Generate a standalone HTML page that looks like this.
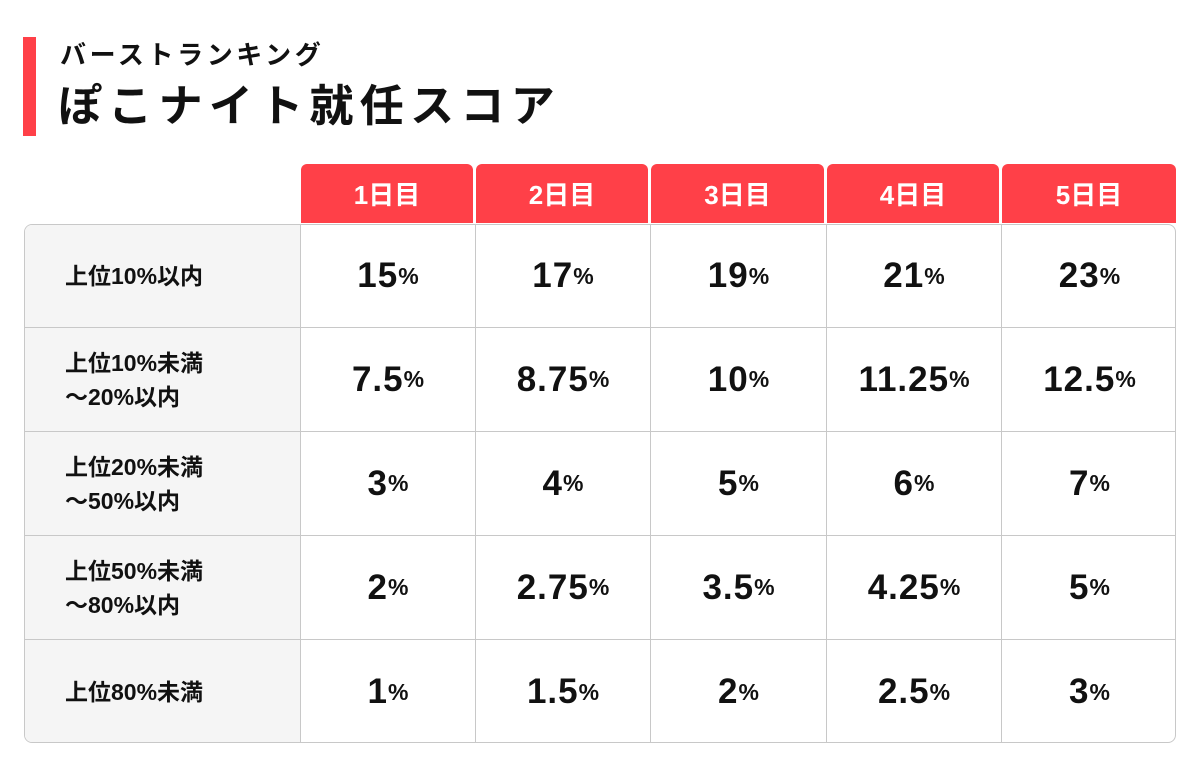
<!DOCTYPE html>
<html><head><meta charset="utf-8"><style>
body{margin:0;width:1200px;height:767px;background:#fff;position:relative;overflow:hidden;font-family:"Liberation Sans","Noto Sans CJK JP",sans-serif;color:#111}
.abs{position:absolute}
.hd{background:#ff4048;color:#fff;font-weight:bold;font-size:26px;display:flex;align-items:center;justify-content:center;border-radius:6px 6px 0 0}
.cell{border-right:1px solid #c8c8c8;border-bottom:1px solid #c8c8c8;box-sizing:border-box;display:flex;align-items:center;justify-content:center;font-weight:bold}
.lab{background:#f5f5f5;justify-content:flex-start;padding-left:40px;font-size:23px;line-height:34px}
.val{font-size:35px;letter-spacing:1px}
.val small{font-size:23px;letter-spacing:0}
</style></head><body>
<div class="abs" style="left:23px;top:37px;width:13px;height:99px;background:#ff4048"></div>
<div class="abs" style="left:60px;top:38px;font-size:26px;font-weight:bold;letter-spacing:3.6px;line-height:34px">バーストランキング</div>
<div class="abs" style="left:58px;top:80px;font-size:44px;font-weight:bold;letter-spacing:6.3px;line-height:54px">ぽこナイト就任スコア</div>
<div class="abs" id="tbl" style="left:24px;top:224px;width:1152px;height:519px;border:1px solid #c8c8c8;border-radius:8px;box-sizing:border-box;overflow:hidden"></div>
<div id="hdrs"></div>
<script>
const days=["1日目","2日目","3日目","4日目","5日目"];
const rowLabels=["上位10%以内","上位10%未満<br>～20%以内","上位20%未満<br>～50%以内","上位50%未満<br>～80%以内","上位80%未満"];
const day1=["15","7.5","3","2","1"];
const day2=["17","8.75","4","2.75","1.5"];
const day3=["19","10","5","3.5","2"];
const day4=["21","11.25","6","4.25","2.5"];
const day5=["23","12.5","7","5","3"];
const cols=[day1,day2,day3,day4,day5];
const xs=[0,276,451,626,802,977,1152];
const ys=[0,103,207,311,415,519];
const hdrs=document.getElementById('hdrs');
days.forEach((d,i)=>{
  const h=document.createElement('div');
  h.className='abs hd';
  
  
  const l=24+xs[i+1]+1, r=24+xs[i+2]-(i==4?0:2);
  h.style.cssText=`left:${l}px;top:164px;width:${r-l}px;height:59px`;
  h.textContent=d;
  hdrs.appendChild(h);
});
const t=document.getElementById('tbl');
rowLabels.forEach((lab,r)=>{
  const c=document.createElement('div');
  c.className='abs cell lab';
  
  
  c.style.cssText=`left:0;top:${ys[r]}px;width:${xs[1]}px;height:${ys[r+1]-ys[r]}px`+(r==4?';border-bottom:none':'');
  c.innerHTML=lab;
  t.appendChild(c);
  cols.forEach((col,ci)=>{
    const v=document.createElement('div');
    v.className='abs cell val';
    
    
    v.style.cssText=`left:${xs[ci+1]}px;top:${ys[r]}px;width:${xs[ci+2]-xs[ci+1]}px;height:${ys[r+1]-ys[r]}px`+(r==4?';border-bottom:none':'')+(ci==4?';border-right:none':'');
    v.innerHTML=col[r]+'<small>%</small>';
    t.appendChild(v);
  });
});
</script>
</body></html>
